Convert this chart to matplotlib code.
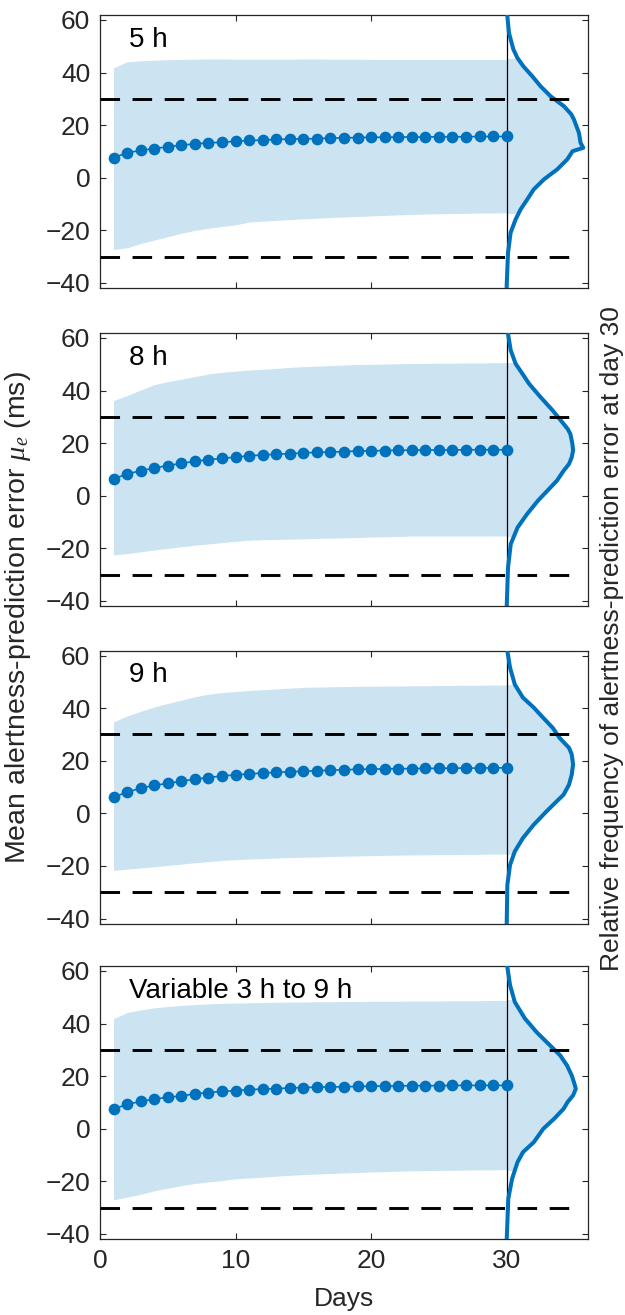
import numpy as np
import matplotlib
matplotlib.use('Agg')
import matplotlib.pyplot as plt
from matplotlib.patches import Rectangle

plt.rcParams['font.family'] = ['Liberation Sans', 'DejaVu Sans']
plt.rcParams['mathtext.fontset'] = 'custom'
plt.rcParams['mathtext.rm'] = 'Liberation Sans'
plt.rcParams['mathtext.it'] = 'Liberation Serif:italic'

# ---- data ----
days = np.arange(1, 31)
panel_titles = ['5 h', '8 h', '9 h', 'Variable 3 h to 9 h']

mean_5h = [7.6, 9.5, 10.4, 11.1, 11.8, 12.4, 12.9, 13.3, 13.5, 13.9, 14.2, 14.3, 14.6, 14.7, 14.8,
           14.9, 15.1, 15.2, 15.3, 15.4, 15.4, 15.5, 15.5, 15.5, 15.6, 15.6, 15.6, 15.7, 15.7, 15.7]
upper_5h = [41.8, 44.1, 44.5, 44.7, 44.9, 45.0, 45.1, 45.2, 45.2, 45.1, 45.1, 45.1, 45.1, 45.1, 45.2,
            45.2, 45.1, 45.1, 45.1, 45.0, 45.0, 45.0, 45.0, 45.0, 45.0, 45.0, 45.0, 45.0, 45.0, 45.0]
lower_5h = [-27.2, -26.6, -25.0, -23.7, -22.4, -21.1, -20.0, -19.2, -18.5, -17.9, -16.8, -16.5, -16.2, -15.9, -15.6,
            -15.4, -15.1, -14.9, -14.7, -14.5, -14.3, -14.1, -13.9, -13.8, -13.7, -13.6, -13.5, -13.4, -13.4, -13.3]

mean_8h = [6.4, 8.3, 9.5, 10.5, 11.5, 12.3, 13.1, 13.7, 14.2, 14.7, 15.2, 15.5, 15.8, 16.0, 16.3,
           16.5, 16.6, 16.8, 17.0, 17.1, 17.2, 17.3, 17.3, 17.4, 17.4, 17.4, 17.5, 17.5, 17.5, 17.5]
upper_8h = [36.2, 38.1, 40.2, 42.2, 43.4, 44.3, 45.3, 46.3, 46.9, 47.4, 47.8, 48.1, 48.4, 48.8, 49.1,
            49.3, 49.5, 49.7, 49.9, 50.0, 50.1, 50.2, 50.3, 50.3, 50.4, 50.4, 50.5, 50.5, 50.6, 50.6]
lower_8h = [-22.5, -22.0, -21.3, -20.6, -20.0, -19.4, -18.8, -18.3, -17.8, -17.3, -16.9, -16.7, -16.6, -16.5, -16.4,
            -16.2, -16.1, -16.0, -15.9, -15.7, -15.6, -15.5, -15.3, -15.3, -15.3, -15.3, -15.3, -15.3, -15.3, -15.3]

mean_9h = [6.2, 8.0, 9.6, 10.6, 11.4, 12.2, 13.0, 13.6, 14.2, 14.6, 15.0, 15.3, 15.6, 15.8, 16.0,
           16.2, 16.4, 16.6, 16.7, 16.8, 16.9, 17.0, 17.0, 17.1, 17.1, 17.2, 17.2, 17.2, 17.3, 17.3]
upper_9h = [34.8, 37.0, 38.8, 40.4, 41.8, 43.0, 44.3, 45.3, 45.9, 46.3, 46.7, 47.0, 47.3, 47.6, 47.9,
            48.0, 48.1, 48.2, 48.3, 48.3, 48.4, 48.4, 48.5, 48.5, 48.6, 48.6, 48.7, 48.7, 48.8, 48.8]
lower_9h = [-21.7, -21.2, -20.8, -20.3, -19.8, -19.3, -18.8, -18.3, -17.9, -17.6, -17.4, -17.2, -17.0, -16.8, -16.7,
            -16.6, -16.4, -16.3, -16.2, -16.1, -16.0, -15.9, -15.8, -15.8, -15.7, -15.7, -15.6, -15.6, -15.5, -15.5]

mean_var = [7.5, 9.3, 10.4, 11.3, 12.0, 12.5, 13.3, 13.8, 14.2, 14.5, 14.9, 15.1, 15.3, 15.5, 15.7,
            15.8, 15.9, 16.0, 16.1, 16.2, 16.3, 16.3, 16.4, 16.4, 16.4, 16.5, 16.5, 16.5, 16.5, 16.5]
upper_var = [41.9, 44.2, 45.2, 46.0, 46.5, 46.9, 47.2, 47.5, 47.7, 47.8, 47.9, 48.0, 48.1, 48.2, 48.2,
             48.3, 48.3, 48.4, 48.4, 48.5, 48.5, 48.5, 48.6, 48.6, 48.6, 48.7, 48.7, 48.7, 48.8, 48.8]
lower_var = [-27.0, -26.0, -24.9, -23.6, -22.6, -21.6, -20.8, -20.2, -19.7, -19.0, -18.7, -18.4, -18.0, -17.7, -17.4,
             -17.2, -17.0, -16.8, -16.6, -16.4, -16.3, -16.1, -16.0, -15.9, -15.8, -15.8, -15.7, -15.6, -15.6, -15.5]

# error distribution at day 30: error value (ms) and relative frequency (drawn as width in days)
dist_5h_err = [62.5, 61.4, 55.1, 48.9, 45.6, 42.4, 38.6, 34.8, 31.0, 27.2, 24.1, 22.2, 17.1, 13.3, 11.4,
               10.1, 7.0, 3.2, -0.6, -4.4, -8.2, -12.0, -15.8, -20.9, -28.5, -41.1, -42.5]
dist_5h_freq = [0.04, 0.05, 0.17, 0.49, 0.79, 1.23, 1.89, 2.5, 3.24, 4.23, 4.77, 4.96, 5.33, 5.45, 5.65,
                4.86, 4.47, 3.73, 2.75, 2.0, 1.52, 1.03, 0.66, 0.29, 0.1, 0.0, 0.0]

dist_8h_err = [62.5, 61.6, 55.3, 50.2, 46.4, 42.6, 37.5, 32.4, 28.6, 25.4, 23.5, 19.7, 17.2, 14.6, 12.1,
               9.5, 5.7, 1.9, -1.9, -7.0, -12.1, -18.4, -27.3, -42.5]
dist_8h_freq = [0.08, 0.1, 0.3, 0.66, 1.16, 1.65, 2.5, 3.4, 4.0, 4.5, 4.7, 4.85, 4.9, 4.8, 4.6,
                4.2, 3.7, 3.0, 2.3, 1.5, 0.8, 0.3, 0.1, 0.0]

dist_9h_err = [62.5, 61.8, 55.4, 49.0, 44.0, 40.2, 36.3, 32.5, 28.7, 24.9, 22.4, 18.6, 14.7, 10.9, 7.1,
               4.6, 0.8, -4.3, -9.4, -14.5, -19.6, -27.2, -42.5]
dist_9h_freq = [0.05, 0.05, 0.25, 0.6, 1.2, 2.0, 2.7, 3.4, 3.9, 4.6, 4.8, 4.9, 4.8, 4.6, 4.2,
                3.7, 2.95, 2.0, 1.2, 0.6, 0.25, 0.05, 0.0]

dist_var_err = [62.5, 61.5, 54.6, 48.2, 41.9, 36.8, 31.7, 27.9, 24.1, 20.3, 17.1, 15.2, 12.7, 10.2, 7.6,
                3.8, 0.0, -5.1, -8.9, -12.7, -19.0, -26.6, -42.5]
dist_var_freq = [0.05, 0.05, 0.25, 0.6, 1.35, 2.2, 3.2, 3.95, 4.45, 4.8, 5.0, 5.1, 4.9, 4.5, 4.2,
                 3.5, 2.7, 2.0, 1.2, 0.8, 0.4, 0.12, 0.0]

means = [mean_5h, mean_8h, mean_9h, mean_var]
uppers = [upper_5h, upper_8h, upper_9h, upper_var]
lowers = [lower_5h, lower_8h, lower_9h, lower_var]
dist_err = [dist_5h_err, dist_8h_err, dist_9h_err, dist_var_err]
dist_freq = [dist_5h_freq, dist_8h_freq, dist_9h_freq, dist_var_freq]

threshold = 30
final_day = 30

# ---- figure ----
blue = '#0072BD'
band = '#CCE3F2'
axcol = '#262626'

fig = plt.figure(figsize=(6.25, 13.15), dpi=100)
left, width, height = 0.16, 0.7808, 0.2076
bottoms = [0.781, 0.5392, 0.2977, 0.0578]

for k in range(4):
    ax = fig.add_axes([left, bottoms[k], width, height])
    ax.fill_between(days, lowers[k], uppers[k], color=band, lw=0, zorder=1)

    # distribution at day 30, shaded within the band limits
    x_curve = final_day + np.asarray(dist_freq[k])
    shade = ax.fill_betweenx(dist_err[k], final_day, x_curve, color=band, lw=0, zorder=1)
    clip = Rectangle((final_day, lowers[k][-1]), 10, uppers[k][-1] - lowers[k][-1],
                     transform=ax.transData)
    shade.set_clip_path(clip)

    ax.axvline(final_day, color='black', lw=0.9, zorder=2)
    ax.plot(x_curve, dist_err[k], color=blue, lw=2.9, zorder=3, solid_joinstyle='round')

    for yv in (threshold, -threshold):
        ax.plot([0, 35], [yv, yv], color='black', lw=2.1, dashes=(6.7, 4.3), zorder=4)

    ax.plot(days, means[k], color=blue, lw=1.2, marker='o', ms=7.4, mec=blue, mfc=blue, zorder=5)

    ax.text(0.06, 0.883, panel_titles[k], transform=ax.transAxes, fontsize=20,
            ha='left', va='baseline', color='black')

    ax.set_xlim(0, 36)
    ax.set_ylim(-41.9, 61.9)
    ax.set_xticks([0, 10, 20, 30])
    ax.set_yticks([-40, -20, 0, 20, 40, 60])
    ax.tick_params(direction='in', top=True, right=True, length=4, width=0.8,
                   color=axcol, labelcolor=axcol, labelsize=19, pad=7)
    for s in ax.spines.values():
        s.set_color(axcol)
        s.set_linewidth(0.9)
    if k < 3:
        ax.set_xticklabels([])
    else:
        ax.set_xlabel('Days', fontsize=19, color=axcol, labelpad=10)

fig.text(18 / 625, 1 - 618 / 1315, r'Mean alertness-prediction error $\mu_e$ (ms)',
         rotation=90, ha='center', va='center', fontsize=20.5, color=axcol)
fig.text(612 / 625, 1 - 639 / 1315, 'Relative frequency of alertness-prediction error at day 30',
         rotation=90, ha='center', va='center', fontsize=19, color=axcol)

fig.savefig('out.png', dpi=100)
